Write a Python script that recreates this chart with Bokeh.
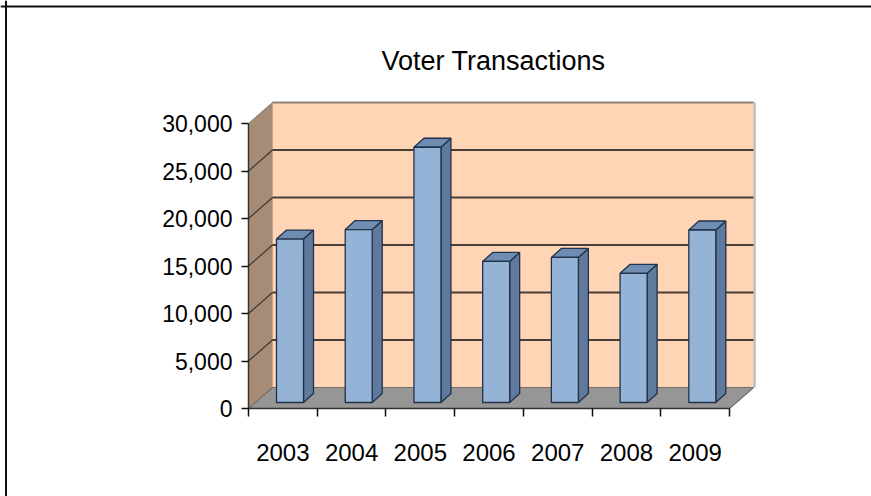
from bokeh.plotting import figure
from bokeh.models import Range1d, LinearAxis, FixedTicker, Span, Label, NumeralTickFormatter
from bokeh.embed import file_html
from bokeh.resources import INLINE

years = ["2003", "2004", "2005", "2006", "2007", "2008", "2009"]
voter_transactions = [17200, 18200, 26870, 14850, 15270, 13600, 18160]
value_ticks = [0, 5000, 10000, 15000, 20000, 25000, 30000]
chart_title = "Voter Transactions"

W, H = 871, 496
PX_X = 68.72            # pixels per category
PX_Y = 9.5 / 1000       # pixels per unit of value
X0, Y0 = 248, 408       # pixel position of the axes' origin


def ux(px):
    return px / PX_X


def uy(px):
    return px / PX_Y


p = figure(width=W, height=H, output_backend="svg", toolbar_location=None,
           x_axis_type=None, y_axis_type=None, min_border=0,
           x_range=Range1d(ux(-X0), ux(W - X0)),
           y_range=Range1d(uy(Y0 - H), uy(Y0)))
p.grid.visible = False
p.outline_line_color = None
p.background_fill_color = "white"
p.border_fill_color = "white"

n = len(years)
top = value_ticks[-1]
dx, dy = ux(24), uy(21)

# walls and floor
p.patch([0, dx, dx, 0], [0, dy, top + dy, top], fill_color="#A68C76", line_color="#8A7564", line_width=1)
p.quad(left=dx, right=n + dx, bottom=dy, top=top + dy, fill_color="#FFD5B5", line_color=None)
p.line([n + dx + ux(1), n + dx + ux(1)], [top + dy, dy], line_color="#BDBDBD", line_width=2.5)
p.line([dx, n + dx], [top + dy, top + dy], line_color="#8C8278", line_width=1.8)
p.patch([0, n, n + dx, dx], [0, 0, dy, dy], fill_color="#969696", line_color="#7A6F66", line_width=1.2)

# grid lines on the back wall and the side wall
levels = value_ticks[1:-1]
p.segment(x0=[dx] * len(levels), x1=[n + dx] * len(levels),
          y0=[v + dy for v in levels], y1=[v + dy for v in levels],
          line_color="#4A3F38", line_width=2.2)
p.segment(x0=[0] * len(levels), x1=[dx] * len(levels),
          y0=levels, y1=[v + dy for v in levels],
          line_color="#3C3430", line_width=1.2)

# bars
off_x, off_y = ux(28), uy(6)
bw, bdx, bdy = ux(27), ux(10), uy(9)
edge = "#22324A"
for i, v in enumerate(voter_transactions):
    l, r = i + off_x, i + off_x + bw
    b, t = off_y, off_y + v
    p.patch([r, r + bdx, r + bdx, r], [b, b + bdy, t + bdy, t],
            fill_color="#5F7A9C", line_color=edge, line_width=1.3)
    p.patch([l, r, r + bdx, l + bdx], [t, t, t + bdy, t + bdy],
            fill_color="#6F8DB3", line_color=edge, line_width=1.3)
    p.quad(left=l, right=r, bottom=b, top=t,
           fill_color="#95B3D7", line_color=edge, line_width=1.3)

# axes
yax = LinearAxis(fixed_location=0, bounds=(0, top),
                 ticker=FixedTicker(ticks=value_ticks),
                 formatter=NumeralTickFormatter(format="0,0"),
                 axis_line_color="#333333", axis_line_width=1.5,
                 major_tick_line_color="#111111", major_tick_line_width=1.5,
                 major_tick_in=0, major_tick_out=7, minor_tick_in=0, minor_tick_out=0,
                 major_label_standoff=9,
                 major_label_text_font="Liberation Sans",
                 major_label_text_font_size="23px", major_label_text_color="black")
p.add_layout(yax, "left")

centers = [i + 0.5 for i in range(n)]
xax = LinearAxis(fixed_location=0, bounds=(0, n),
                 ticker=FixedTicker(ticks=centers, minor_ticks=list(range(n + 1))),
                 major_label_overrides=dict(zip(centers, years)),
                 axis_line_color="#333333", axis_line_width=1.5,
                 major_tick_in=0, major_tick_out=0,
                 minor_tick_line_color="#111111", minor_tick_line_width=1.5,
                 minor_tick_in=0, minor_tick_out=8,
                 major_label_standoff=27,
                 major_label_text_font="Liberation Sans",
                 major_label_text_font_size="24px", major_label_text_color="black")
p.add_layout(xax, "below")

# frame fragments at the top and the left
p.add_layout(Span(location=5.5, location_units="screen", dimension="height",
                  line_color="#111111", line_width=2))
p.add_layout(Span(location=H - 6, location_units="screen", dimension="width",
                  line_color="#111111", line_width=2))

p.add_layout(Label(x=493, y=H - 60, x_units="screen", y_units="screen", text=chart_title,
                   text_font="Liberation Sans", text_font_size="27px", text_color="black",
                   text_align="center", text_baseline="middle"))

open("out.html", "w").write(file_html(p, INLINE))
